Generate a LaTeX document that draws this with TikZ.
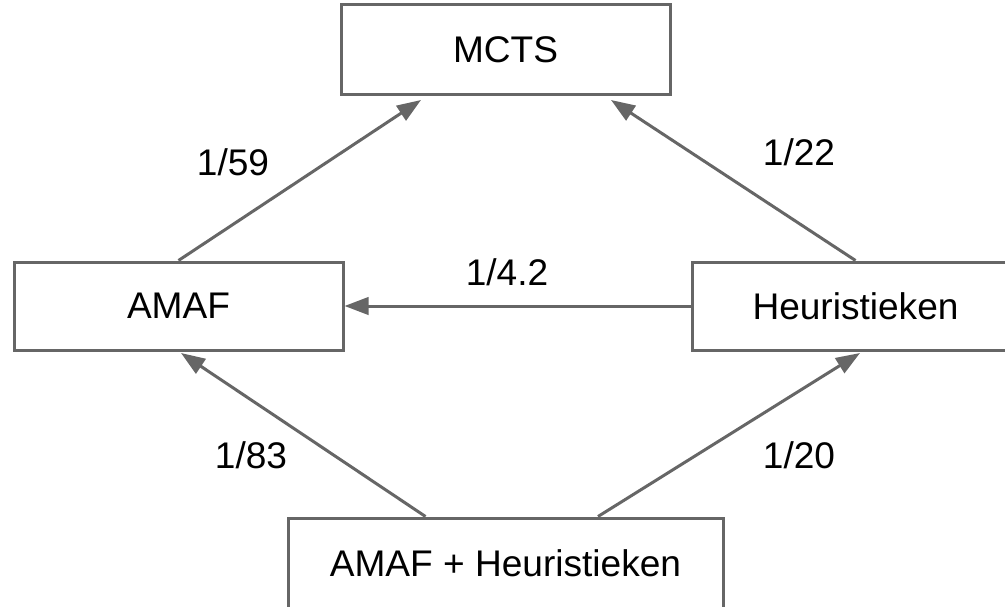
\documentclass[tikz,border=0pt]{standalone}
\usepackage{fontspec}
\setmainfont{Liberation Sans}
\usetikzlibrary{arrows.meta}
\definecolor{linegray}{RGB}{102,102,102}
\begin{document}
\begin{tikzpicture}[x=0.75pt,y=-0.75pt,
  box/.style={draw=linegray, line width=2.25pt, rectangle, inner sep=0pt, text=black, font=\fontsize{27.8}{33}\selectfont},
  arr/.style={draw=linegray, line width=2.25pt, -{Triangle[length=18pt,width=13pt]}},
  lbl/.style={font=\fontsize{27.8}{33}\selectfont, inner sep=0pt, text=black}]
\clip (0,0) rectangle (1005,606);
\node[box, minimum width=246.75pt, minimum height=67.5pt] (mcts) at (505.5,50) {MCTS};
\node[box, minimum width=246.75pt, minimum height=66pt] (amaf) at (178.5,306) {AMAF};
\node[box, minimum width=245.25pt, minimum height=66pt] (heur) at (855.5,306) {Heuristieken};
\node[box, minimum width=326.25pt, minimum height=67.5pt] (both) at (505.5,563) {AMAF + Heuristieken};
\coordinate (tipM1) at (421,100);
\coordinate (tipM2) at (611,100);
\coordinate (tipA) at (181,353);
\coordinate (tipH) at (860,353);
\draw[arr] (amaf.north) -- (tipM1);
\draw[arr] (heur.north) -- (tipM2);
\draw[arr] (heur.west) -- (amaf.east);
\draw[arr] ([xshift=-60pt]both.north) -- (tipA);
\draw[arr] ([xshift=69.4pt]both.north) -- (tipH);
\node[lbl] (l59) at (233,162) {1/59};
\node[lbl] (l22) at (799,152) {1/22};
\node[lbl] (l42) at (507,272) {1/4.2};
\node[lbl] (l83) at (251,455) {1/83};
\node[lbl] (l20) at (799,455) {1/20};
\end{tikzpicture}
\end{document}
